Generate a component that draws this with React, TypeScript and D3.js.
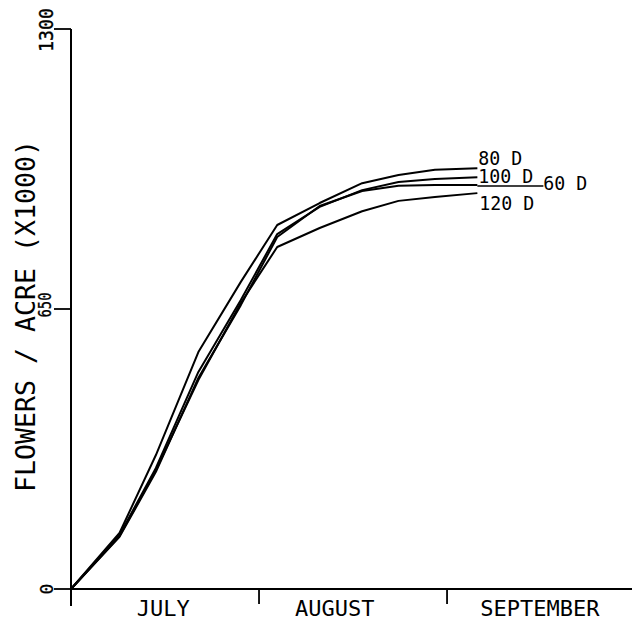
import React from "react";
import * as d3 from "d3";

// Sampling dates: days after July 1
const DAYS = [0, 8, 14, 21, 28, 34, 41, 48, 54, 60, 67];

const SERIES_NAMES = ["80 D", "100 D", "60 D", "120 D"];
const S80 = [0, 130, 311, 550, 713, 845, 896, 942, 961, 973, 977];
const S100 = [0, 125, 281, 504, 671, 824, 887, 926, 945, 952, 956];
const S60 = [0, 121, 272, 490, 659, 817, 889, 924, 936, 938, 938];
const S120 = [0, 123, 276, 485, 664, 794, 838, 877, 901, 910, 919];
const SERIES = [S80, S100, S60, S120];

const Y_TICKS = [0, 650, 1300];
const MONTH_STARTS = [31, 62];
const MONTHS = ["JULY", "AUGUST", "SEPTEMBER"];
const MONTH_LABEL_DAY = [15.2, 43.5, 77.3];

// label layout: offsets from the series' last point
const LABEL_LAYOUT = [
  { dx: 1, dy: -3, leader: false },
  { dx: 1, dy: 6, leader: false },
  { dx: 66, dy: 5, leader: true },
  { dx: 2, dy: 17, leader: false },
];

const FONT = "'DejaVu Sans Mono', 'Liberation Mono', monospace";

export default function App() {
  const W = 636;
  const H = 628;
  const x = d3.scaleLinear().domain([0, 92]).range([71, 629]);
  const y = d3.scaleLinear().domain([0, 1300]).range([589, 29]);
  const line = d3
    .line<number>()
    .x((_, i) => x(DAYS[i]))
    .y((d) => y(d));

  const lastDay = DAYS[DAYS.length - 1];

  return (
    <div style={{ position: "absolute", left: 0, top: 0 }}>
      <svg width={W} height={H} style={{ display: "block", background: "#fff" }}>
        {/* axes */}
        <line x1={x(0)} x2={x(0)} y1={y(1300)} y2={606} stroke="#000" strokeWidth={2} />
        <line x1={x(0)} x2={632} y1={y(0)} y2={y(0)} stroke="#000" strokeWidth={2} />
        {Y_TICKS.map((t) => (
          <line key={t} x1={x(0) - 17} x2={x(0)} y1={y(t)} y2={y(t)} stroke="#000" strokeWidth={1.8} />
        ))}
        {MONTH_STARTS.map((d) => (
          <line key={d} x1={x(d)} x2={x(d)} y1={y(0)} y2={y(0) + 15} stroke="#000" strokeWidth={1.8} />
        ))}
        {/* y tick labels (rotated) */}
        <text
          transform={`translate(53,${y(1300) + 1}) rotate(-90)`}
          textAnchor="middle"
          fontFamily={FONT}
          fontSize={20}
          textLength={44}
          lengthAdjust="spacingAndGlyphs"
          stroke="#000"
          strokeWidth={0.4}
        >
          {Y_TICKS[2]}
        </text>
        <text
          transform={`translate(51,${y(650) - 4}) rotate(-90)`}
          textAnchor="middle"
          fontFamily={FONT}
          fontSize={17}
          textLength={25}
          lengthAdjust="spacingAndGlyphs"
          stroke="#000"
          strokeWidth={0.3}
        >
          {Y_TICKS[1]}
        </text>
        <text
          transform={`translate(53,${y(0)}) rotate(-90)`}
          textAnchor="middle"
          fontFamily={FONT}
          fontSize={18}
          stroke="#000"
          strokeWidth={0.3}
        >
          {Y_TICKS[0]}
        </text>
        {/* y axis title */}
        <text
          transform={`translate(35,316) rotate(-90)`}
          textAnchor="middle"
          fontFamily={FONT}
          fontSize={26}
          textLength={352}
          lengthAdjust="spacingAndGlyphs"
        >
          FLOWERS / ACRE (X1000)
        </text>
        {/* month labels */}
        {MONTHS.map((m, i) => (
          <text
            key={m}
            x={x(MONTH_LABEL_DAY[i])}
            y={616}
            textAnchor="middle"
            fontFamily={FONT}
            fontSize={22}
          >
            {m}
          </text>
        ))}
        {/* series */}
        {SERIES.map((s, i) => (
          <path key={i} d={line(s) || ""} fill="none" stroke="#000" strokeWidth={2} strokeLinejoin="round" />
        ))}
        {SERIES.map((s, i) => {
          const lx = x(lastDay);
          const ly = y(s[s.length - 1]);
          const L = LABEL_LAYOUT[i];
          const name = SERIES_NAMES[i];
          return (
            <g key={"l" + i}>
              {L.leader && (
                <line x1={lx} x2={lx + L.dx} y1={ly + 1} y2={ly + 1} stroke="#000" strokeWidth={1.6} />
              )}
              <text
                x={lx + L.dx}
                y={ly + L.dy}
                fontFamily={FONT}
                fontSize={19}
                textLength={name.length * 11}
                lengthAdjust="spacingAndGlyphs"
              >
                {name}
              </text>
            </g>
          );
        })}
      </svg>
    </div>
  );
}
